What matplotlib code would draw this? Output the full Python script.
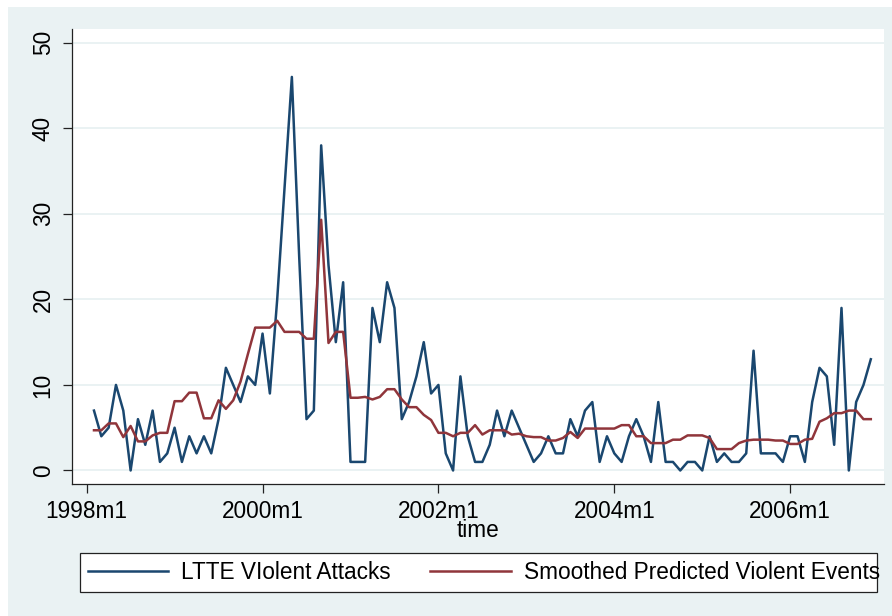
import numpy as np
import matplotlib as mpl
import matplotlib.pyplot as plt
from matplotlib.patches import Rectangle

# monthly series, 1998m2 .. 2006m12 (month index: 1998m1 = 0)
first_month = 1
attacks = [7, 4, 5, 10, 7, 0, 6, 3, 7, 1, 2, 5, 1, 4, 2, 4, 2, 6, 12, 10,
           8, 11, 10, 16, 9, 20, 33, 46, 25, 6, 7, 38, 24, 15, 22, 1, 1, 1, 19, 15,
           22, 19, 6, 8, 11, 15, 9, 10, 2, 0, 11, 4, 1, 1, 3, 7, 4, 7, 5, 3,
           1, 2, 4, 2, 2, 6, 4, 7, 8, 1, 4, 2, 1, 4, 6, 4, 1, 8, 1, 1,
           0, 1, 1, 0, 4, 1, 2, 1, 1, 2, 14, 2, 2, 2, 1, 4, 4, 1, 8, 12,
           11, 3, 19, 0, 8, 10, 13]
smoothed = [4.7, 4.7, 5.5, 5.5, 3.9, 5.2, 3.4, 3.4, 4.1, 4.4, 4.4, 8.1, 8.1, 9.1, 9.1, 6.1, 6.1, 8.2, 7.2, 8.2,
            10.4, 13.6, 16.7, 16.7, 16.7, 17.5, 16.2, 16.2, 16.2, 15.4, 15.4, 29.3, 14.9, 16.2, 16.2, 8.5, 8.5, 8.6, 8.3, 8.6,
            9.5, 9.5, 8.3, 7.4, 7.4, 6.5, 5.9, 4.4, 4.4, 4.0, 4.4, 4.4, 5.3, 4.2, 4.7, 4.7, 4.7, 4.2, 4.3, 4.0,
            3.9, 3.9, 3.5, 3.5, 3.8, 4.5, 3.8, 4.9, 4.9, 4.9, 4.9, 4.9, 5.3, 5.3, 4.0, 4.0, 3.2, 3.2, 3.2, 3.6,
            3.6, 4.1, 4.1, 4.1, 3.8, 2.5, 2.5, 2.5, 3.2, 3.5, 3.6, 3.6, 3.6, 3.5, 3.5, 3.1, 3.1, 3.6, 3.7, 5.7,
            6.1, 6.7, 6.7, 7.0, 7.0, 6.0, 6.0]
xtick_pos = [0, 24, 48, 72, 96]
xtick_labels = ["1998m1", "2000m1", "2002m1", "2004m1", "2006m1"]
ytick_pos = [0, 10, 20, 30, 40, 50]

navy = "#1a476f"
maroon = "#90353b"
bg = "#eaf2f3"

mpl.rcParams.update({
    "font.family": ["Liberation Sans", "DejaVu Sans"],
    "font.size": 16.3,
})

t = np.arange(len(attacks)) + first_month

fig = plt.figure(figsize=(8.92, 6.16), dpi=100, facecolor="white")
fig.patches.append(Rectangle((8 / 892, 0), 1, 609 / 616, transform=fig.transFigure,
                             facecolor=bg, edgecolor="none", zorder=-10))

ax = fig.add_axes([72 / 892, 1 - 484 / 616, 812 / 892, 455 / 616])
ax.set_facecolor("white")
for y in ytick_pos:
    ax.axhline(y, color=bg, lw=1.4, zorder=1)

l1, = ax.plot(t, attacks, color=navy, lw=1.8, zorder=3)
l2, = ax.plot(t, smoothed, color=maroon, lw=1.8, zorder=4)

ax.set_xlim(-2.0, 108.8)
ax.set_ylim(-1.58, 51.6)
ax.set_xticks(xtick_pos)
ax.set_xticklabels(xtick_labels)
ax.set_yticks(ytick_pos)
ax.set_yticklabels([str(v) for v in ytick_pos], rotation=90, va="center")
ax.tick_params(axis="both", direction="out", length=6.5, width=0.9, color="#222222")
ax.tick_params(axis="x", pad=5)
ax.tick_params(axis="y", pad=6)
ax.set_xlabel("time", labelpad=-3)

for side in ("top", "right"):
    ax.spines[side].set_visible(False)
for side in ("left", "bottom"):
    ax.spines[side].set_linewidth(0.9)
    ax.spines[side].set_color("#222222")

# legend box drawn separately so the text can run up to its right edge
fig.patches.append(Rectangle((80 / 892, 1 - 592 / 616), 797 / 892, 39 / 616,
                             transform=fig.transFigure, facecolor="white",
                             edgecolor="#222222", linewidth=0.9, zorder=-5))
leg = fig.legend([l1, l2], ["LTTE VIolent Attacks", "Smoothed Predicted Violent Events"],
                 ncol=2, loc="lower left", mode="expand", borderaxespad=0,
                 bbox_to_anchor=(80 / 892, 1 - 592 / 616, 808 / 892, 39 / 616),
                 frameon=False, handlelength=3.55, handletextpad=0.58, borderpad=0.35)
for line in leg.get_lines():
    line.set_linewidth(1.8)

fig.savefig("out.png", dpi=100, facecolor=fig.get_facecolor())
